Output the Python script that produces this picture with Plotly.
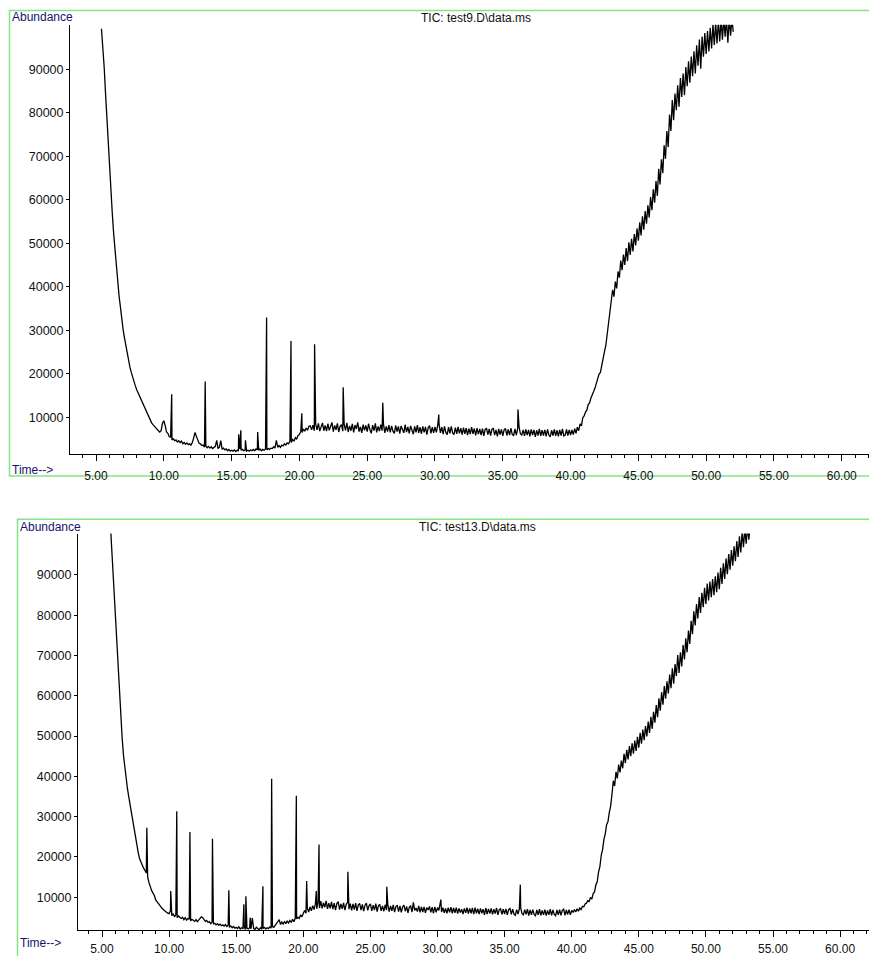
import plotly.graph_objects as go

# ---------------- data ----------------
# Sampled TIC values, one row per minute, sampling step 0.1 min
TEST9_START = 5.4
TEST9_STEP = 0.1
TEST9_VALUES = [
    99300, 95500, 90500, 84500, 78500, 72500,                               # 5.4-5.9
    66500, 61500, 56800, 52200, 48500, 44300, 41400, 37800, 35300, 32400,   # 6
    30100, 28200, 26400, 24700, 23000, 21500, 20300, 19100, 18100, 17200,   # 7
    16300, 15600, 15000, 14300, 13600, 12900, 12300, 11600, 10600, 9800,    # 8
    9300, 8700, 8300, 7900, 7500, 7100, 6900, 6600, 6900, 8600,             # 9
    9200, 8100, 6600, 6300, 5500, 5400, 4800, 5000, 4600, 4800,             # 10
    4300, 4600, 4200, 4500, 3900, 4200, 3800, 4100, 3700, 3900,             # 11
    3600, 4200, 5200, 6500, 5600, 4900, 4000, 3900, 3500, 3600,             # 12
    3100, 3400, 3000, 3300, 2900, 3200, 2800, 3000, 3300, 4700,             # 13
    2800, 3100, 4600, 2700, 2900, 2500, 2700, 2300, 2600, 2200,             # 14
    2400, 2200, 2500, 2100, 2400, 2300, 2700, 2400, 2600, 2300,             # 15
    2500, 2200, 2400, 2200, 2500, 2300, 2600, 2300, 2700, 2500,             # 16
    2400, 2700, 2300, 2600, 2400, 2700, 2500, 2800, 2600, 2900,             # 17
    2800, 3200, 2900, 4700, 3100, 3500, 3100, 3600, 3400, 3900,             # 18
    3600, 4100, 3900, 4500, 4200, 4900, 4500, 5300, 5000, 5800,             # 19
    6000, 6800, 6500, 7300, 6800, 7500, 7000, 7900, 8000, 7100,             # 20
    8200, 6900, 8400, 7100, 8600, 6800, 7900, 8700, 6900, 8100,             # 21
    6800, 8500, 7000, 7900, 8800, 6700, 8100, 7100, 8600, 6600,             # 22
    7900, 8300, 6800, 8400, 7000, 8700, 6600, 8000, 6900, 8500,             # 23
    6500, 8200, 7300, 8800, 6700, 7800, 6400, 8300, 7000, 8100,             # 24
    6700, 8500, 7100, 6300, 8200, 6900, 8600, 6500, 7900, 6800,             # 25
    8300, 6900, 8400, 6400, 7900, 6700, 8200, 6500, 8000, 6800,             # 26
    6300, 8100, 6700, 7900, 6200, 8000, 6900, 6400, 8300, 6600,             # 27
    7800, 6300, 8000, 6700, 6100, 7900, 6500, 8200, 6400, 7700,             # 28
    6200, 7900, 6500, 7800, 6000, 7600, 8100, 6300, 7700, 6400,             # 29
    7800, 6500, 8100, 8400, 6400, 7700, 6100, 7900, 6500, 6000,             # 30
    7700, 6300, 7900, 6400, 6000, 7600, 6200, 7800, 6300, 7500,             # 31
    6000, 7600, 6200, 7500, 5900, 7400, 6100, 7700, 6200, 7400,             # 32
    5800, 7500, 6100, 7300, 5900, 7400, 5700, 7200, 7500, 6000,             # 33
    7300, 5800, 7200, 7500, 5900, 7100, 5600, 7300, 6000, 7200,             # 34
    5700, 7100, 7400, 5800, 7200, 5900, 7500, 6000, 5800, 7300,             # 35
    5900, 7400, 7800, 6200, 5900, 7100, 5700, 7200, 5900, 7100,             # 36
    5600, 7200, 5900, 7100, 5500, 7000, 5800, 7300, 5700, 7000,             # 37
    5800, 7100, 5600, 7200, 5900, 5500, 7000, 5800, 7200, 5700,             # 38
    7000, 5600, 7100, 5800, 7300, 5700, 5900, 7200, 5800, 7100,             # 39
    5900, 7100, 6000, 7400, 6300, 7700, 6900, 8500, 8000, 9900,             # 40
    10300, 11200, 11600, 12900, 13300, 14400, 15000, 15900, 16700, 17900,   # 41
    18500, 19900, 20300, 22100, 23200, 25100, 26500, 29100, 31200, 34500,   # 42
    36100, 39300, 37700, 41200, 39600, 43500, 42100, 46000, 43800, 47400,   # 43
    45000, 48900, 45900, 50200, 47300, 51000, 48100, 52100, 49500, 53400,   # 44
    50600, 54800, 51800, 56200, 53100, 57400, 54500, 58700, 55900, 60600,   # 45
    57600, 62400, 59300, 64300, 60900, 67100, 63500, 69300, 66100, 72500,   # 46
    69400, 75800, 72100, 79600, 75800, 82900, 78300, 84400, 80600, 86300,   # 47
    81400, 88000, 83600, 89000, 84000, 90500, 86100, 91800, 86900, 92900,   # 48
    88400, 94100, 89000, 95500, 90800, 96800, 90100, 97500, 92900, 98300,   # 49
    93500, 98800, 94100, 99500, 94800, 100300, 95600, 100800, 95900, 101200,  # 50
    96400, 101500, 96800, 101700, 97500, 101600, 96100, 101800, 97700, 101500,  # 51
    98600,                                                                  # 52
]
TEST9_PEAK_TIMES = [10.58, 13.05, 15.52, 15.68, 16.02, 16.92, 17.58, 19.38,
                    20.18, 21.12, 23.23, 26.15, 30.28, 36.12]
TEST9_PEAK_VALUES = [15300, 18200, 6100, 7000, 4700, 6600, 32900, 27500,
                     10900, 26800, 16900, 13300, 10600, 11800]

TEST13_START = 5.6
TEST13_STEP = 0.1
TEST13_VALUES = [
    104000, 97800, 91000, 84900,                                            # 5.6-5.9
    78400, 71800, 64800, 58500, 53800, 49500, 45200, 42000, 39200, 36800,   # 6
    34800, 32800, 30500, 28300, 26000, 24100, 22600, 21000, 19500, 18600,   # 7
    17900, 17200, 16600, 16000, 15000, 13600, 12500, 11600, 11000, 10400,   # 8
    9300, 8800, 8300, 7900, 7500, 7100, 6800, 6500, 6200, 6000,             # 9
    5900, 6600, 5400, 5900, 5100, 5600, 4900, 5300, 5000, 4700,             # 10
    5000, 4400, 4900, 4300, 4700, 4500, 4100, 4500, 4300, 4000,             # 11
    4400, 3900, 4300, 4600, 5100, 4900, 4500, 4000, 4200, 3700,             # 12
    3900, 3400, 3800, 3300, 3500, 3100, 3400, 3000, 3300, 2900,             # 13
    3100, 2800, 3200, 2700, 3000, 2600, 2800, 2400, 2700, 2300,             # 14
    2500, 2200, 2600, 2100, 2400, 2200, 2500, 2000, 2300, 2100,             # 15
    2400, 2100, 4800, 2200, 2000, 2500, 2100, 1900, 2400, 2000,             # 16
    2200, 2500, 2100, 2400, 2200, 2600, 2300, 2700, 2500, 3000,             # 17
    3300, 4000, 4400, 3200, 3800, 3300, 3900, 3400, 4100, 3600,             # 18
    4200, 3700, 4500, 3900, 4800, 4600, 5000, 4700, 5600, 5100,             # 19
    6000, 6700, 6000, 7200, 6300, 7600, 6600, 7900, 6900, 8300,             # 20
    7100, 8800, 7300, 9000, 7200, 8600, 7500, 9100, 7100, 8500,             # 21
    7200, 8800, 7000, 8500, 6800, 8400, 8900, 6900, 8300, 7100,             # 22
    8600, 6800, 8200, 8700, 7000, 8400, 6700, 8300, 6900, 8500,             # 23
    6600, 8100, 8400, 6800, 8200, 6500, 8000, 8500, 6700, 7900,             # 24
    8300, 6600, 8000, 6800, 8400, 6400, 7900, 8200, 6600, 7800,             # 25
    6500, 8100, 6800, 8000, 6400, 7800, 6600, 8100, 6300, 7700,             # 26
    7900, 6400, 7800, 6200, 7600, 8000, 6500, 7700, 6100, 7500,             # 27
    7800, 6300, 8700, 6700, 7300, 6400, 7800, 6200, 7600, 6300,             # 28
    7600, 6100, 7400, 6800, 7700, 6200, 7500, 6000, 7600, 6200,             # 29
    7400, 6700, 8200, 6300, 7400, 6100, 7200, 6000, 7400, 6200,             # 30
    7500, 6000, 7300, 6100, 7400, 5900, 7200, 6200, 7000, 5800,             # 31
    7200, 6100, 7400, 5900, 7200, 6000, 7300, 5800, 7400, 6000,             # 32
    7100, 5800, 7200, 6000, 7000, 5600, 7300, 5800, 7100, 5900,             # 33
    7200, 5700, 7000, 5900, 7300, 5600, 6900, 7100, 5700, 7000,             # 34
    5800, 7100, 5600, 6900, 7200, 5700, 7000, 5800, 5500, 6900,             # 35
    5800, 7100, 7300, 5900, 5600, 6900, 5700, 7000, 5400, 6800,             # 36
    5600, 6900, 5700, 5400, 6800, 5600, 7000, 5500, 6700, 5600,             # 37
    6900, 5400, 6700, 5600, 7000, 5500, 6800, 5700, 5400, 6800,             # 38
    5600, 6900, 5500, 6700, 7000, 5500, 6800, 5700, 6900, 5600,             # 39
    6700, 6200, 6900, 6300, 7100, 6500, 7300, 6900, 7700, 7600,             # 40
    8300, 8500, 9100, 8900, 9900, 9500, 10900, 11300, 13000, 13800,         # 41
    16200, 17600, 20400, 21800, 24300, 25700, 28000, 28700, 31000, 32600,   # 42
    35500, 38900, 37600, 41100, 39500, 42900, 41000, 43900, 42000, 45600,   # 43
    43300, 46600, 44200, 47500, 45000, 48200, 45600, 48900, 46300, 49800,   # 44
    47100, 50800, 48100, 51600, 49000, 52500, 49900, 53600, 50800, 54800,   # 45
    51800, 56000, 53300, 57700, 54700, 59400, 56300, 60900, 57800, 62400,   # 46
    59300, 63600, 60600, 65300, 61900, 66800, 63000, 67900, 64900, 70100,   # 47
    65700, 70800, 67300, 72600, 69000, 74300, 70800, 76200, 72900, 78600,   # 48
    75300, 81000, 77500, 82800, 79200, 84500, 80600, 85600, 82000, 86800,   # 49
    82800, 87900, 83700, 88400, 84500, 89000, 85000, 89700, 85700, 90600,   # 50
    86500, 91800, 87800, 92900, 89000, 94100, 90200, 95200, 91300, 96200,   # 51
    92300, 97100, 93400, 98400, 94500, 99600, 95600, 100700, 96900, 101500,  # 52
    97800, 102000, 98800, 102400, 100500,                                   # 53.0-53.4
]
TEST13_PEAK_TIMES = [8.34, 10.12, 10.57, 11.55, 13.23, 14.45, 15.57, 15.72,
                     16.04, 16.99, 17.64, 19.48, 20.25, 20.97, 21.17, 23.32,
                     26.22, 30.25, 36.17]
TEST13_PEAK_VALUES = [27200, 11500, 31300, 26200, 24500, 11700, 8200, 10200,
                      4900, 12700, 39400, 35200, 14000, 11500, 23100, 16300,
                      12600, 9400, 13100]

TITLES = ["TIC: test9.D\\data.ms", "TIC: test13.D\\data.ms"]
Y_TICKS = [10000, 20000, 30000, 40000, 50000, 60000, 70000, 80000, 90000]


def build(start, step, values, pk_t, pk_v):
    pts = [(round(start + i * step, 3), v) for i, v in enumerate(values)]
    pts += list(zip(pk_t, pk_v))
    pts.sort(key=lambda p: p[0])
    return [p[0] for p in pts], [p[1] for p in pts]


t9, v9 = build(TEST9_START, TEST9_STEP, TEST9_VALUES, TEST9_PEAK_TIMES, TEST9_PEAK_VALUES)
t13, v13 = build(TEST13_START, TEST13_STEP, TEST13_VALUES, TEST13_PEAK_TIMES, TEST13_PEAK_VALUES)

# ---------------- layout helpers ----------------
# the page body keeps its default 8px margin, so the figure is placed at (8, 8)
OFF = 8
W, H = 877 - OFF, 956 - OFF
FONT = "Liberation Sans, Arial, sans-serif"
NAVY = "#14146e"
GREEN = "#86e486"


def px(x):
    return (x - OFF) / W


def py(y):
    return 1 - (y - OFF) / H


fig = go.Figure()
fig.add_trace(go.Scatter(x=t9, y=v9, mode="lines", line=dict(color="#000000", width=1.3),
                         xaxis="x", yaxis="y", showlegend=False, hoverinfo="skip"))
fig.add_trace(go.Scatter(x=t13, y=v13, mode="lines", line=dict(color="#000000", width=1.3),
                         xaxis="x2", yaxis="y2", showlegend=False, hoverinfo="skip"))


def xax(domain, rng, anchor, standoff):
    return dict(domain=domain, range=rng, anchor=anchor, showline=True, linecolor="#000",
                linewidth=1, ticks="outside", ticklen=6, tickwidth=1, tickcolor="#000",
                tick0=0, dtick=5, tickformat=".2f", showgrid=False, zeroline=False,
                ticklabelstandoff=standoff,
                tickfont=dict(family=FONT, size=12, color="#111"),
                minor=dict(ticks="outside", ticklen=3, tickcolor="#000", dtick=1, tick0=0,
                           showgrid=False),
                fixedrange=True)


def yax(domain, rng, anchor):
    return dict(domain=domain, range=rng, anchor=anchor, showline=True, linecolor="#000",
                linewidth=1, ticks="outside", ticklen=3, tickwidth=1, tickcolor="#000",
                tickvals=Y_TICKS, tickformat="d", showgrid=False, zeroline=False,
                tickfont=dict(family=FONT, size=12.5, color="#111"),
                fixedrange=True)


fig.update_layout(
    width=W, height=H,
    margin=dict(l=0, r=0, t=0, b=0),
    paper_bgcolor="white", plot_bgcolor="white",
    xaxis=xax([px(70), 1.0], [3.08, 62.6], "y", 4),
    yaxis=yax([py(458), py(25)], [1500, 100200], "x"),
    xaxis2=xax([px(78), 1.0], [3.21, 62.75], "y2", 1),
    yaxis2=yax([py(938), py(538)], [1800, 100300], "x2"),
    shapes=[
        dict(type="rect", xref="paper", yref="paper", x0=px(9.5), x1=px(900),
             y0=py(480), y1=py(10.5), line=dict(color=GREEN, width=1.5), layer="below"),
        dict(type="rect", xref="paper", yref="paper", x0=px(17.5), x1=px(900),
             y0=py(990), y1=py(523.5), line=dict(color=GREEN, width=1.5), layer="below"),
    ],
)

ann = []
for (x, y, txt, col, anchor) in [
    (10, 17, "Abundance", NAVY, "left"),
    (10, 474, "Time-->", NAVY, "left"),
    (476, 18, TITLES[0], "#111", "center"),
    (18, 531, "Abundance", NAVY, "left"),
    (18, 951, "Time-->", NAVY, "left"),
    (477, 531, TITLES[1], "#111", "center"),
]:
    ann.append(dict(x=px(x), y=py(y), xref="paper", yref="paper", text=txt,
                    showarrow=False, xanchor=anchor, yanchor="middle",
                    font=dict(family=FONT, size=12, color=col)))
fig.update_layout(annotations=ann)

fig.write_html("out.html")
